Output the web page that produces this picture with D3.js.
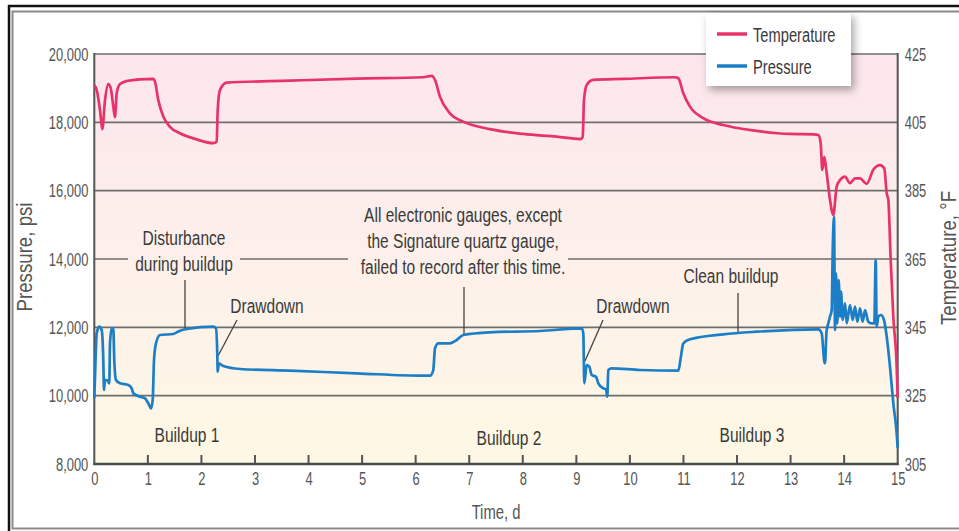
<!DOCTYPE html>
<html><head><meta charset="utf-8">
<script src="https://cdn.jsdelivr.net/npm/d3@7"></script>
<style>
body{margin:0;background:#fff;}
svg{display:block;}
text{font-family:"Liberation Sans","Arial",sans-serif;}
</style></head><body>
<svg id="c" width="959" height="531"></svg>
<script>
// ---- data ----
const timeTicks = [0,1,2,3,4,5,6,7,8,9,10,11,12,13,14,15];
const pressureTicks = [8000,10000,12000,14000,16000,18000,20000];
const temperatureTicks = [305,325,345,365,385,405,425];
const seriesNames = ["Temperature","Pressure"];

const tempDays = [0,0.045,0.106,0.149,0.2,0.261,0.306,0.355,0.386,0.418,0.48,0.605,0.853,1.102,1.133,1.195,1.288,1.413,1.6,1.912,2.222,2.285,2.304,2.347,2.472,3.654,4.899,6.143,6.3,6.361,6.454,6.641,6.889,7.388,8.01,8.633,9.081,9.119,9.143,9.193,9.317,9.877,10.842,10.904,10.997,11.122,11.371,11.744,12.368,12.989,13.424,13.518,13.562,13.592,13.63,13.674,13.736,13.798,13.861,13.923,14.016,14.109,14.203,14.296,14.421,14.544,14.67,14.75,14.795,14.825,14.869,14.918,14.981,15.0];
const tempValues = [415.9,414.5,408.6,403.0,411.5,416.2,415.0,409.6,406.5,413.5,416.2,417.1,417.6,417.7,416.9,411.5,406.7,403.7,401.8,400.0,398.9,399.3,408.6,414.5,416.6,417.2,417.8,418.2,418.6,417.4,412.5,407.6,405.2,403.0,401.6,400.8,400.1,400.8,411.5,415.9,417.4,417.7,418.2,417.9,413.5,409.6,406.2,404.2,402.5,401.6,401.5,401.3,398.9,391.1,394.9,390.1,382.3,377.9,386.2,388.1,389.1,387.2,388.6,388.6,387.0,391.1,392.5,391.5,384.2,382.3,364.7,348.1,333.5,324.3];

const pressDays = [0,0.013,0.045,0.093,0.138,0.168,0.181,0.2,0.232,0.261,0.28,0.293,0.325,0.355,0.373,0.405,0.48,0.635,0.698,0.728,0.853,0.947,1.008,1.059,1.09,1.115,1.152,1.227,1.475,1.6,1.725,2.222,2.272,2.296,2.304,2.323,2.409,2.72,3.654,4.899,6.143,6.268,6.329,6.361,6.423,6.641,6.766,6.889,7.388,8.322,9.1,9.13,9.149,9.193,9.242,9.287,9.367,9.41,9.503,9.554,9.578,9.597,9.66,10.189,10.904,10.948,10.997,11.122,11.744,12.368,13.518,13.581,13.63,13.643,13.671,13.705,13.736,13.768,13.787,13.811,13.83,13.848,13.872,13.898,13.923,13.942,13.973,14.016,14.048,14.11,14.16,14.203,14.246,14.296,14.346,14.39,14.451,14.515,14.563,14.589,14.608,14.638,14.688,14.744,14.795,14.856,14.918,14.981,15.0];
const pressValues = [9923,10555,11826,12019,11922,11044,10166,10459,10459,10409,10362,11533,11972,11972,11044,10459,10362,10312,10216,10069,9970,9923,9777,9630,9873,11044,11533,11776,11805,11902,11951,12019,11972,11240,10702,10947,10868,10781,10731,10655,10585,10585,10751,11387,11533,11533,11629,11776,11855,11893,11972,11826,10362,10898,10848,10605,10555,10362,10216,10186,9970,10751,10801,10751,10731,11094,11533,11650,11796,11872,11943,11826,10994,10947,11872,12118,12312,12508,14264,15238,11922,13582,12118,13386,12312,13043,12215,12704,12118,12654,12215,12604,12165,12557,12165,12508,12165,12118,12118,13971,12019,12312,12361,12215,11726,10848,9777,8899,8460];

const annotations = [
  {lines:["Disturbance","during buildup"], x:184, y:245, lead:[[185,280],[185,328]], gap:[128,240]},
  {lines:["Drawdown"], x:267, y:313, lead:[[237,320],[218,356]]},
  {lines:["All electronic gauges, except","the Signature quartz gauge,","failed to record after this time."], x:463, y:222, lead:[[464,287],[464,335]], gap:[348,568]},
  {lines:["Drawdown"], x:633, y:313, lead:[[603,320],[585,361]]},
  {lines:["Clean buildup"], x:731, y:283, lead:[[738,293],[738,333]]},
  {lines:["Buildup 1"], x:187, y:442},
  {lines:["Buildup 2"], x:509, y:445},
  {lines:["Buildup 3"], x:752, y:442}
];

// ---- layout ----
const svg = d3.select("#c");
const L = 94.3, R = 897.7, T = 54, B = 464;
const x = d3.scaleLinear().domain([0,15]).range([L,R]);
const yP = d3.scaleLinear().domain([8000,20000]).range([B,T]);
const yT = d3.scaleLinear().domain([305,425]).range([B,T]);
const red = "#e8336a", blue = "#1b7ec6";

const defs = svg.append("defs");
const g = defs.append("linearGradient").attr("id","bg").attr("gradientUnits","userSpaceOnUse")
  .attr("x1",0).attr("y1",T).attr("x2",0).attr("y2",B);
g.append("stop").attr("offset","0").attr("stop-color","#fce6ed");
g.append("stop").attr("offset","0.55").attr("stop-color","#fdf1ea");
g.append("stop").attr("offset","1").attr("stop-color","#fdf8e4");
const f = defs.append("filter").attr("id","sh").attr("x","-20%").attr("y","-20%").attr("width","150%").attr("height","160%");
f.append("feDropShadow").attr("dx",3).attr("dy",4).attr("stdDeviation",4).attr("flood-color","#000").attr("flood-opacity",0.35);

// frame
svg.append("rect").attr("x",9).attr("y",6).attr("width",960).attr("height",540).attr("fill","none").attr("stroke","#111").attr("stroke-width",2.5);
svg.append("rect").attr("x",12.5).attr("y",11.5).attr("width",960).attr("height",517).attr("fill","none").attr("stroke","#8a8a8a").attr("stroke-width",2);

// plot background
svg.append("rect").attr("x",L).attr("y",T).attr("width",R-L).attr("height",B-T).attr("fill","url(#bg)");

// gridlines
svg.append("g").selectAll("line").data(pressureTicks.filter(d=>d>8000)).join("line")
  .attr("x1",L).attr("x2",R).attr("y1",d=>yP(d)).attr("y2",d=>yP(d))
  .attr("stroke","#6e6e6e").attr("stroke-width",1.6);

// gaps behind annotation text on gridline
annotations.filter(a=>a.gap).forEach(a=>{
  svg.append("rect").attr("x",a.gap[0]).attr("y",yP(14000)-3).attr("width",a.gap[1]-a.gap[0]).attr("height",6).attr("fill","url(#bg)");
});

// bottom ticks
svg.append("g").selectAll("line").data(timeTicks.filter(d=>d>0 && d<15)).join("line")
  .attr("x1",d=>x(d)).attr("x2",d=>x(d)).attr("y1",B).attr("y2",B-9)
  .attr("stroke","#555").attr("stroke-width",2);

// axis lines
svg.append("line").attr("x1",L).attr("x2",L).attr("y1",T-1).attr("y2",B+1).attr("stroke","#555").attr("stroke-width",2);
svg.append("line").attr("x1",R).attr("x2",R).attr("y1",T-1).attr("y2",B+1).attr("stroke","#555").attr("stroke-width",2);
svg.append("line").attr("x1",L-1).attr("x2",R+1).attr("y1",B).attr("y2",B).attr("stroke","#4a4a4a").attr("stroke-width",2.5);

// axes labels via d3 axes
const TSX = 0.68;
function styleAxis(sel){
  sel.select(".domain").remove();
  sel.selectAll("line").remove();
  sel.selectAll("text").attr("fill","#555").style("font-size","19px")
    .attr("x",function(){ return (+d3.select(this).attr("x")||0)/TSX; })
    .attr("transform",`scale(${TSX},1)`);
}
svg.append("g").attr("transform",`translate(${L},0)`)
  .call(d3.axisLeft(yP).tickValues(pressureTicks).tickFormat(d3.format(",")).tickSize(0).tickPadding(6))
  .call(styleAxis);
svg.append("g").attr("transform",`translate(${R},0)`)
  .call(d3.axisRight(yT).tickValues(temperatureTicks).tickSize(0).tickPadding(7))
  .call(styleAxis);
svg.append("g").attr("transform",`translate(0,${B})`)
  .call(d3.axisBottom(x).tickValues(timeTicks).tickSize(0).tickPadding(8))
  .call(styleAxis);

// axis titles
svg.append("text").attr("transform",`translate(32,257) rotate(-90) scale(0.85,1)`).attr("text-anchor","middle")
  .attr("fill","#555").style("font-size","22px").text("Pressure, psi");
svg.append("text").attr("transform",`translate(956,258) rotate(-90) scale(0.85,1)`).attr("text-anchor","middle")
  .attr("fill","#555").style("font-size","22px").text("Temperature, °F");
svg.append("text").attr("transform",`translate(496,519) scale(0.74,1)`).attr("text-anchor","middle")
  .attr("fill","#555").style("font-size","20px").text("Time, d");

// annotations
annotations.forEach(a=>{
  const t = svg.append("text").attr("transform",`translate(${a.x},${a.y}) scale(0.74,1)`)
    .attr("text-anchor","middle").attr("fill","#3a3a3a").style("font-size","21px");
  a.lines.forEach((s,i)=>t.append("tspan").attr("x",0).attr("y",i*26).text(s));
  if(a.lead) svg.append("line").attr("x1",a.lead[0][0]).attr("y1",a.lead[0][1]).attr("x2",a.lead[1][0]).attr("y2",a.lead[1][1])
    .attr("stroke","#444").attr("stroke-width",1.3);
});

// series
const tempData = tempDays.map((d,i)=>[d,tempValues[i]]);
const pressData = pressDays.map((d,i)=>[d,pressValues[i]]);
svg.append("path").datum(pressData).attr("fill","none").attr("stroke",blue).attr("stroke-width",2.7)
  .attr("stroke-linejoin","round")
  .attr("d",d3.line().x(d=>x(d[0])).y(d=>yP(d[1])).curve(d3.curveMonotoneX));
svg.append("path").datum(tempData).attr("fill","none").attr("stroke",red).attr("stroke-width",2.7)
  .attr("stroke-linejoin","round")
  .attr("d",d3.line().x(d=>x(d[0])).y(d=>yT(d[1])).curve(d3.curveMonotoneX));

// legend
const lg = svg.append("g");
lg.append("rect").attr("x",706).attr("y",13).attr("width",145).attr("height",73).attr("fill","#fff").attr("filter","url(#sh)");
const items = [{n:seriesNames[0],c:red,y:34},{n:seriesNames[1],c:blue,y:66}];
items.forEach(it=>{
  lg.append("line").attr("x1",717).attr("x2",747).attr("y1",it.y).attr("y2",it.y).attr("stroke",it.c).attr("stroke-width",3.5);
  lg.append("text").attr("transform",`translate(753,${it.y+8}) scale(0.7,1)`).attr("fill","#3a3a3a").style("font-size","21px").text(it.n);
});
</script></body></html>
